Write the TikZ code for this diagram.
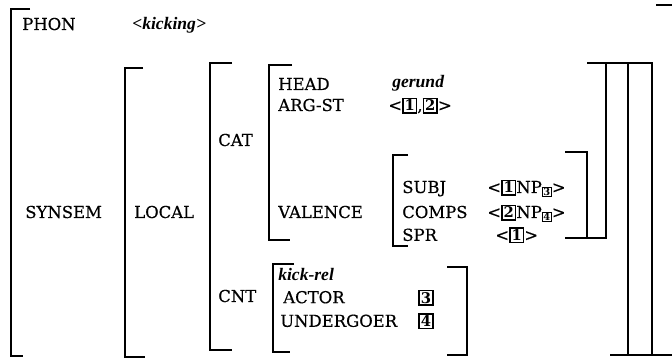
\documentclass[tikz,border=0pt]{standalone}
\usepackage{fontspec}
\setmainfont{DejaVu Serif}[UprightFeatures={FakeBold=0.4}]
\newfontfamily\valfont{Liberation Serif}
\usepackage{tikz}

\newcommand{\avmtag}[1]{{\setlength{\fboxsep}{0.7pt}\setlength{\fboxrule}{1.1pt}\fbox{\fontsize{10.5}{11}\selectfont\bfseries #1}}}
\newcommand{\avmsub}[1]{\raisebox{-2pt}{\setlength{\fboxsep}{0.3pt}\setlength{\fboxrule}{0.8pt}\fbox{\fontsize{7}{7}\selectfont\bfseries #1}}}

\begin{document}
\begin{tikzpicture}[scale=1, font=\fontsize{11.7}{14}\selectfont,
		brk/.style={line width=1.2pt},
		lbl/.style={anchor=base west, inner sep=0pt},
		val/.style={anchor=base west, inner sep=0pt, font=\fontsize{12.5}{15}\selectfont\valfont\bfseries\itshape}]
		\useasboundingbox (0,0) rectangle (16.8,-9.1);
		% Outer brackets
		\draw[brk] (0.75,-0.225) -- (0.275,-0.225) -- (0.275,-8.9) -- (0.575,-8.9);
		\draw[brk] (16.4,-0.125) -- (16.85,-0.125) -- (16.85,-8.875) -- (16.3,-8.875);
		% SYNSEM value
		\draw[brk] (3.575,-1.7) -- (3.125,-1.7) -- (3.125,-8.925) -- (3.625,-8.925);
		\draw[brk] (15.7,-1.575) -- (16.3,-1.575) -- (16.3,-8.875) -- (15.7,-8.875);
		% LOCAL value
		\draw[brk] (5.8,-1.575) -- (5.25,-1.575) -- (5.25,-8.75) -- (5.8,-8.75);
		\draw[brk] (15.15,-1.575) -- (15.7,-1.575) -- (15.7,-8.875) -- (15.25,-8.875);
		% CAT value
		\draw[brk] (7.3,-1.625) -- (6.725,-1.625) -- (6.725,-6.0) -- (7.25,-6.0);
		\draw[brk] (14.675,-1.575) -- (15.15,-1.575) -- (15.15,-5.95) -- (14.175,-5.95);
		% VALENCE value
		\draw[brk] (10.2,-3.875) -- (9.825,-3.875) -- (9.825,-6.15) -- (10.2,-6.15);
		\draw[brk] (14.125,-3.8) -- (14.675,-3.8) -- (14.675,-5.95) -- (14.125,-5.95);
		% CNT value
		\draw[brk] (7.35,-6.6) -- (6.825,-6.6) -- (6.825,-8.8) -- (7.25,-8.8);
		\draw[brk] (11.175,-6.675) -- (11.675,-6.675) -- (11.675,-8.875) -- (11.175,-8.875);
		% Features
		\node[lbl] (phon) at (0.55,-0.75) {PHON};
		\node[val] (kicking) at (3.3,-0.75) {<kicking>};
		\node[lbl] (synsem) at (0.625,-5.45) {SYNSEM};
		\node[lbl] (local) at (3.35,-5.45) {LOCAL};
		\node[lbl] (cat) at (5.45,-3.65) {CAT};
		\node[lbl] (cnt) at (5.45,-7.55) {CNT};
		\node[lbl] (head) at (6.95,-2.25) {HEAD};
		\node[val] (gerund) at (9.8,-2.2) {gerund};
		\node[lbl] (argst) at (6.95,-2.775) {ARG-ST};
		\node[lbl] (argstval) at (9.7,-2.775) {<\avmtag{1},\avmtag{2}>};
		\node[lbl] (valence) at (6.95,-5.45) {VALENCE};
		\node[lbl] (subj) at (10.05,-4.825) {SUBJ};
		\node[lbl] (subjval) at (12.175,-4.825) {<\avmtag{1}NP\avmsub{3}>};
		\node[lbl] (comps) at (10.05,-5.45) {COMPS};
		\node[lbl] (compsval) at (12.175,-5.45) {<\avmtag{2}NP\avmsub{4}>};
		\node[lbl] (spr) at (10.05,-6.02) {SPR};
		\node[lbl] (sprval) at (12.375,-6.02) {<\avmtag{1}>};
		\node[val] (kickrel) at (6.95,-7.0) {kick-rel};
		\node[lbl] (actor) at (7.075,-7.58) {ACTOR};
		\node[lbl] (actorval) at (10.45,-7.58) {\avmtag{3}};
		\node[lbl] (undergoer) at (7.0,-8.17) {UNDERGOER};
		\node[lbl] (undergoerval) at (10.45,-8.17) {\avmtag{4}};
	\end{tikzpicture}
\end{document}
